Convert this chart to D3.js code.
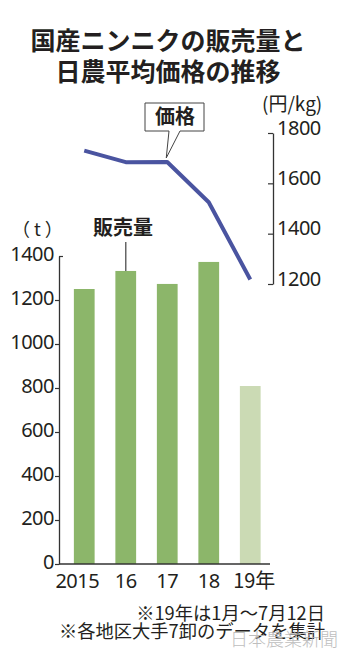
<!DOCTYPE html>
<html>
<head>
<meta charset="utf-8">
<script src="https://cdn.jsdelivr.net/npm/d3@7"></script>
<style>
  html, body { margin: 0; padding: 0; background: #fff; }
  svg { display: block; }
  text { fill: #231f20; }
  .num { font-family: "Noto Sans", "Open Sans", sans-serif; letter-spacing: -0.5px; }
  .jp { font-family: "Noto Sans CJK JP", sans-serif; }
</style>
</head>
<body>
<svg id="chart" width="345" height="658"></svg>
<script>
const years = ['2015', '16', '17', '18', '19年'];
const volume = [1250, 1332, 1273, 1373, 809];   // 販売量 (t)
const price = [1730, 1684, 1685, 1525, 1218];   // 日農平均価格 (円/kg)
const volTicks = [0, 200, 400, 600, 800, 1000, 1200, 1400];
const priceTicks = [1200, 1400, 1600, 1800];
const titleLines = ['国産ニンニクの販売量と', '日農平均価格の推移'];
const notes = ['※19年は1月～7月12日', '※各地区大手7卸のデータを集計'];

const svg = d3.select('#chart');

const x = d3.scaleBand()
    .domain(years)
    .range([63.5, 271])
    .paddingInner(0.5)
    .paddingOuter(0.25);
const yL = d3.scaleLinear().domain([0, 1400]).range([564, 256]);
const yR = d3.scaleLinear().domain([1200, 1800]).range([284, 133]);

// Title
svg.append('g').selectAll('text')
    .data(titleLines)
    .join('text')
    .attr('class', 'jp')
    .attr('x', 168)
    .attr('y', (d, i) => 50 + i * 31)
    .attr('text-anchor', 'middle')
    .attr('font-size', 25)
    .attr('font-weight', 'bold')
    .text(d => d);

// Bars
svg.append('g').selectAll('rect')
    .data(volume)
    .join('rect')
    .attr('x', (d, i) => x(years[i]))
    .attr('y', d => yL(d))
    .attr('width', x.bandwidth())
    .attr('height', d => yL(0) - yL(d))
    .attr('fill', (d, i) => i === years.length - 1 ? '#cbdab4' : '#8cb66a');

// Left axis
const gL = svg.append('g')
    .attr('transform', 'translate(59,0)')
    .call(d3.axisLeft(yL).tickValues(volTicks).tickFormat(d3.format('d')).tickSize(4).tickSizeOuter(0));
gL.select('.domain').attr('stroke', '#333').attr('stroke-width', 1.3);
gL.selectAll('.tick line').attr('stroke', '#333').attr('stroke-width', 1.2)
    .filter(d => d === 1400).attr('x2', 4);
gL.selectAll('.tick text')
    .attr('class', 'num')
    .attr('x', -5)
    .attr('dy', '0.2em')
    .attr('font-size', 20)
    .attr('fill', '#231f20');

// Bottom axis
const gB = svg.append('g')
    .attr('transform', 'translate(0,564)')
    .call(d3.axisBottom(x).tickSize(0).tickSizeOuter(0));
gB.select('.domain').attr('d', 'M59,0H270').attr('stroke', '#333').attr('stroke-width', 1.3);
gB.selectAll('.tick text')
    .attr('class', d => d.includes('年') ? 'jp' : 'num')
    .attr('y', 24)
    .attr('dy', 0)
    .attr('dx', (d, i) => i === 0 ? -7 : (i === years.length - 1 ? 4 : 0))
    .attr('font-size', 20)
    .attr('fill', '#231f20');

// Right axis
const gR = svg.append('g')
    .attr('transform', 'translate(273,0)')
    .call(d3.axisRight(yR).tickValues(priceTicks).tickFormat(d3.format('d')).tickSize(-5).tickSizeOuter(0));
gR.select('.domain').attr('stroke', '#333').attr('stroke-width', 1.3);
gR.selectAll('.tick line').attr('stroke', '#333').attr('stroke-width', 1.2);
gR.selectAll('.tick text')
    .attr('class', 'num')
    .attr('x', 4)
    .attr('dy', '0.05em')
    .attr('font-size', 20)
    .attr('fill', '#231f20');

// Unit labels
svg.append('text').attr('class', 'jp').attr('x', 12).attr('y', 236)
    .attr('font-size', 18).text('（ t ）');
svg.append('text').attr('class', 'jp').attr('x', 262).attr('y', 111)
    .attr('font-size', 19).text('(円/kg)');

// Price line
const line = d3.line()
    .x((d, i) => x(years[i]) + x.bandwidth() / 2)
    .y(d => yR(d));
svg.append('path')
    .datum(price)
    .attr('fill', 'none')
    .attr('stroke', '#4a54a0')
    .attr('stroke-width', 4)
    .attr('stroke-linejoin', 'round')
    .attr('d', line);

// Callout 価格
const px = x(years[2]) + x.bandwidth() / 2;
const py = yR(price[2]);
svg.append('path')
    .attr('d', `M145,103H204V131H180L${px - 1},${py - 4}L169,131H145Z`)
    .attr('fill', '#fff')
    .attr('stroke', '#444')
    .attr('stroke-width', 1);
svg.append('text').attr('class', 'jp').attr('x', 175).attr('y', 124)
    .attr('text-anchor', 'middle').attr('font-size', 20).attr('font-weight', 'bold')
    .text('価格');

// Label 販売量
const bx = x(years[1]) + x.bandwidth() / 2;
svg.append('line')
    .attr('x1', bx).attr('x2', bx)
    .attr('y1', 242).attr('y2', yL(volume[1]))
    .attr('stroke', '#666').attr('stroke-width', 1.5);
svg.append('text').attr('class', 'jp').attr('x', 123).attr('y', 235)
    .attr('text-anchor', 'middle').attr('font-size', 20).attr('font-weight', 'bold')
    .text('販売量');

// Notes
svg.append('g').selectAll('text')
    .data(notes)
    .join('text')
    .attr('class', 'jp')
    .attr('x', 325)
    .attr('y', (d, i) => 620 + i * 18)
    .attr('text-anchor', 'end')
    .attr('font-size', 18.3)
    .text(d => d);

// Watermark
svg.append('text').attr('class', 'jp').attr('x', 338).attr('y', 646)
    .attr('text-anchor', 'end').attr('font-size', 18).attr('font-weight', 300)
    .style('fill', '#b8b8b8').attr('opacity', 0.9)
    .text('日本農業新聞');
</script>
</body>
</html>
